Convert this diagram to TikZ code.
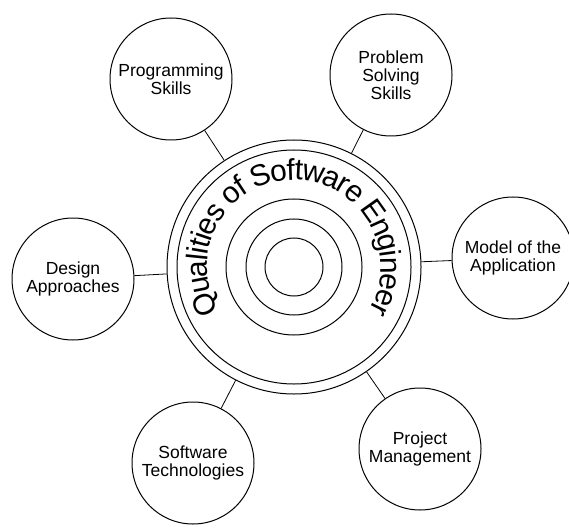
\documentclass[tikz,border=0pt]{standalone}
\usepackage{fontspec}
\setmainfont{Liberation Sans}
\usetikzlibrary{decorations.text}

\begin{document}
\begin{tikzpicture}[x=1pt,y=1pt,
    topic/.style={draw, circle, line width=1pt, minimum size=122pt, inner sep=0pt,
      align=center, font=\fontsize{17.5}{18}\selectfont},
    ring/.style={line width=1pt},
    link/.style={line width=0.8pt}]
                \useasboundingbox (0,0) rectangle (569,528);

                \node[circle, draw, ring, minimum size=254pt, inner sep=0pt] (core) at (294,261) {};
                \draw[ring] (core.center) circle[radius=117pt];
                \foreach \r in {29,48,68}
                  \draw[ring] (core.center) circle[radius=\r pt];

                \path[decorate, decoration={text along path, text align=center, raise=-10pt,
                    text={|\fontsize{30}{32}\selectfont|Qualities of Software Engineer}}]
                  (core.center) ++(213:97pt) arc[start angle=213, end angle=-33, radius=97pt];

                \node[topic] (prog)   at (171,449) {Programming\\Skills};
                \node[topic] (prob)   at (391,453) {Problem\\Solving\\Skills};
                \node[topic] (model)  at (513,270) {Model of the\\Application};
                \node[topic] (design) at (73,249)  {Design\\Approaches};
                \node[topic] (tech)   at (193,65)  {Software\\Technologies};
                \node[topic] (proj)   at (420,79)  {Project\\Management};

                \foreach \t in {prog,prob,model,design,tech,proj}
                  \draw[link] (\t) -- (core);
               
                \end{tikzpicture}
\end{document}
